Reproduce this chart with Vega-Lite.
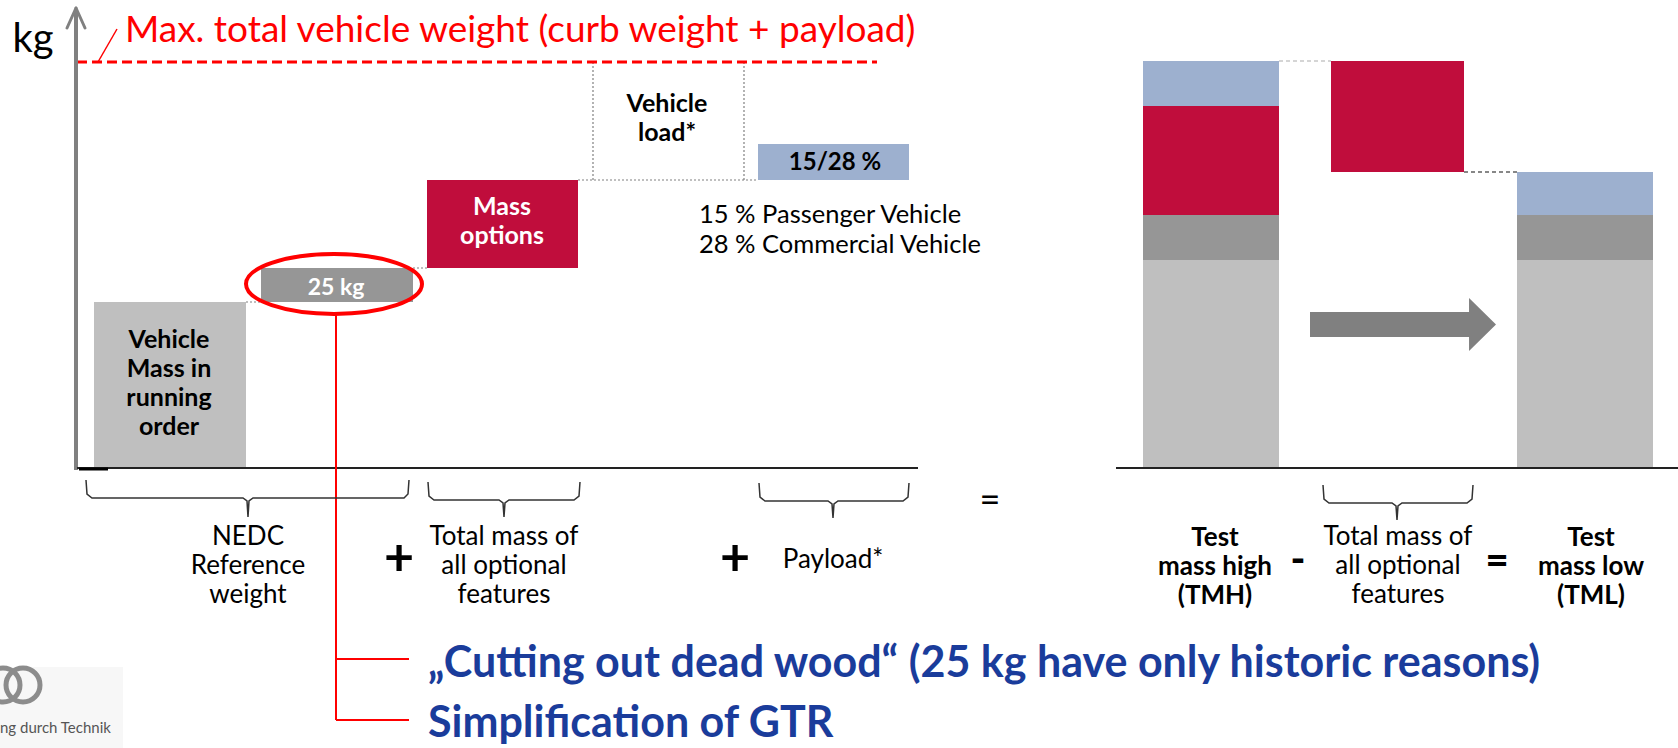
{
 "$schema": "https://vega.github.io/schema/vega-lite/v6.json",
 "width": 1678, "height": 748,
 "autosize": {"type": "none"},
 "padding": 0,
 "background": "#ffffff",
 "config": {"view": {"stroke": null}, "font": "Lato"},
 "datasets": {
  "bars": [
   {"part": "Mass in running order", "x": 94, "x2": 246, "y": 0, "y2": 166},
   {"part": "25 kg", "x": 261, "x2": 413, "y": 166, "y2": 200},
   {"part": "Mass options", "x": 427, "x2": 578, "y": 200, "y2": 288},
   {"part": "Payload", "x": 758, "x2": 909, "y": 288, "y2": 324},
   {"part": "Mass in running order", "x": 1143, "x2": 1279, "y": 0, "y2": 208},
   {"part": "25 kg", "x": 1143, "x2": 1279, "y": 208, "y2": 253},
   {"part": "Mass options", "x": 1143, "x2": 1279, "y": 253, "y2": 362},
   {"part": "Payload", "x": 1143, "x2": 1279, "y": 362, "y2": 407},
   {"part": "Mass options", "x": 1331, "x2": 1464, "y": 296, "y2": 407},
   {"part": "Mass in running order", "x": 1517, "x2": 1653, "y": 0, "y2": 208},
   {"part": "25 kg", "x": 1517, "x2": 1653, "y": 208, "y2": 253},
   {"part": "Payload", "x": 1517, "x2": 1653, "y": 253, "y2": 296}
  ],
  "logoBox": [{"x": 0, "x2": 123, "y": -199, "y2": -280}],
  "dotted": [
   {"x": 246, "x2": 261, "y": 166, "y2": 166},
   {"x": 413, "x2": 427, "y": 200, "y2": 200},
   {"x": 578, "x2": 758, "y": 288, "y2": 288},
   {"x": 593, "x2": 593, "y": 288, "y2": 406},
   {"x": 744, "x2": 744, "y": 288, "y2": 406}
  ],
  "dashedLight": [{"x": 1279, "x2": 1331, "y": 407, "y2": 407}],
  "dashedDark": [{"x": 1464, "x2": 1517, "y": 296, "y2": 296}],
  "maxLine": [{"x": 77, "x2": 877, "y": 406, "y2": 406}],
  "grayAxis": [{"x": 76, "x2": 76, "y": -2, "y2": 458}],
  "grayArrowWings": [
   {"x": 76, "x2": 67, "y": 460, "y2": 440},
   {"x": 76, "x2": 85, "y": 460, "y2": 440}
  ],
  "blackAxes": [
   {"x": 77, "x2": 918, "y": 0, "y2": 0},
   {"x": 1116, "x2": 1678, "y": 0, "y2": 0}
  ],
  "blackTick": [{"x": 79, "x2": 108, "y": -1, "y2": -1}],
  "redLines": [
   {"x": 336, "x2": 336, "y": 154, "y2": -252},
   {"x": 336, "x2": 409, "y": -191, "y2": -191},
   {"x": 336, "x2": 409, "y": -252, "y2": -252}
  ],
  "redSlash": [{"x": 98, "x2": 117, "y": 406, "y2": 439}],
  "ellipse": [{"x": 334, "y": 184}],
  "arrow": [{"x": 1403, "y": 143.5}],
  "rings": [{"x": 3, "y": -217}, {"x": 23, "y": -217}],
  "braces": [
   {"brace": "A", "i": 0, "x": 86, "y": -12}, {"brace": "A", "i": 1, "x": 87, "y": -26}, {"brace": "A", "i": 2, "x": 92, "y": -30}, {"brace": "A", "i": 3, "x": 243, "y": -30}, {"brace": "A", "i": 4, "x": 247, "y": -33}, {"brace": "A", "i": 5, "x": 248, "y": -49}, {"brace": "A", "i": 6, "x": 249, "y": -33}, {"brace": "A", "i": 7, "x": 253, "y": -30}, {"brace": "A", "i": 8, "x": 404, "y": -30}, {"brace": "A", "i": 9, "x": 408, "y": -26}, {"brace": "A", "i": 10, "x": 409, "y": -12},
   {"brace": "B", "i": 0, "x": 428, "y": -14}, {"brace": "B", "i": 1, "x": 429, "y": -28}, {"brace": "B", "i": 2, "x": 434, "y": -32}, {"brace": "B", "i": 3, "x": 499, "y": -32}, {"brace": "B", "i": 4, "x": 503, "y": -35}, {"brace": "B", "i": 5, "x": 504, "y": -49}, {"brace": "B", "i": 6, "x": 505, "y": -35}, {"brace": "B", "i": 7, "x": 509, "y": -32}, {"brace": "B", "i": 8, "x": 574, "y": -32}, {"brace": "B", "i": 9, "x": 579, "y": -28}, {"brace": "B", "i": 10, "x": 580, "y": -14},
   {"brace": "C", "i": 0, "x": 759, "y": -15}, {"brace": "C", "i": 1, "x": 760, "y": -29}, {"brace": "C", "i": 2, "x": 765, "y": -33}, {"brace": "C", "i": 3, "x": 828, "y": -33}, {"brace": "C", "i": 4, "x": 832, "y": -36}, {"brace": "C", "i": 5, "x": 833, "y": -50}, {"brace": "C", "i": 6, "x": 834, "y": -36}, {"brace": "C", "i": 7, "x": 838, "y": -33}, {"brace": "C", "i": 8, "x": 903, "y": -33}, {"brace": "C", "i": 9, "x": 908, "y": -29}, {"brace": "C", "i": 10, "x": 909, "y": -15},
   {"brace": "D", "i": 0, "x": 1323, "y": -17}, {"brace": "D", "i": 1, "x": 1324, "y": -31}, {"brace": "D", "i": 2, "x": 1329, "y": -35}, {"brace": "D", "i": 3, "x": 1392, "y": -35}, {"brace": "D", "i": 4, "x": 1396, "y": -38}, {"brace": "D", "i": 5, "x": 1397, "y": -52}, {"brace": "D", "i": 6, "x": 1398, "y": -38}, {"brace": "D", "i": 7, "x": 1402, "y": -35}, {"brace": "D", "i": 8, "x": 1467, "y": -35}, {"brace": "D", "i": 9, "x": 1472, "y": -31}, {"brace": "D", "i": 10, "x": 1473, "y": -17}
  ],
  "labels26": [
   {"label": "NEDC", "x": 248, "y": -69}, {"label": "Reference", "x": 248, "y": -98}, {"label": "weight", "x": 248, "y": -127},
   {"label": "Total mass of", "x": 504, "y": -69}, {"label": "all optional", "x": 504, "y": -98}, {"label": "features", "x": 504, "y": -127},
   {"label": "Payload*", "x": 833, "y": -92},
   {"label": "Total mass of", "x": 1398, "y": -69}, {"label": "all optional", "x": 1398, "y": -98}, {"label": "features", "x": 1398, "y": -127}
  ],
  "notes": [
   {"label": "15 % Passenger Vehicle", "x": 699, "y": 253},
   {"label": "28 % Commercial Vehicle", "x": 699, "y": 223}
  ],
  "kg": [{"label": "kg", "x": 33, "y": 416}],
  "eqMid": [{"label": "=", "x": 990, "y": -33}],
  "bold24": [
   {"label": "Vehicle", "x": 667, "y": 364}, {"label": "load*", "x": 667, "y": 335},
   {"label": "Vehicle", "x": 169, "y": 128}, {"label": "Mass in", "x": 169, "y": 99}, {"label": "running", "x": 169, "y": 70}, {"label": "order", "x": 169, "y": 41}
  ],
  "pct": [{"label": "15/28 %", "x": 835, "y": 305}],
  "bold26": [
   {"label": "Test", "x": 1215, "y": -70}, {"label": "mass high", "x": 1215, "y": -99}, {"label": "(TMH)", "x": 1215, "y": -128},
   {"label": "Test", "x": 1591, "y": -70}, {"label": "mass low", "x": 1591, "y": -99}, {"label": "(TML)", "x": 1591, "y": -128}
  ],
  "plus": [{"label": "+", "x": 399, "y": -91}, {"label": "+", "x": 735, "y": -91}],
  "ops": [{"label": "-", "x": 1298, "y": -93}, {"label": "=", "x": 1497, "y": -94}],
  "white": [
   {"label": "Mass", "x": 502, "y": 261}, {"label": "options", "x": 502, "y": 232}
  ],
  "white25": [{"label": "25 kg", "x": 336, "y": 180}],
  "title": [{"label": "Max. total vehicle weight (curb weight + payload)", "x": 125, "y": 426}],
  "blue": [
   {"label": "„Cutting out dead wood“ (25 kg have only historic reasons)", "x": 428, "y": -209},
   {"label": "Simplification of GTR", "x": 428, "y": -269}
  ],
  "logoText": [{"label": "ng durch Technik", "x": 0, "y": -265}]
 },
 "encoding": {
  "x": {"field": "x", "type": "quantitative", "scale": {"domain": [0, 1678], "nice": false, "zero": false}, "axis": null},
  "y": {"field": "y", "type": "quantitative", "scale": {"domain": [-280, 468], "nice": false, "zero": false}, "axis": null}
 },
 "layer": [
  {"data": {"name": "logoBox"}, "mark": {"type": "rect", "color": "#f7f7f7"}, "encoding": {"x2": {"field": "x2"}, "y2": {"field": "y2"}}},
  {"data": {"name": "bars"}, "mark": {"type": "rect"}, "encoding": {"x2": {"field": "x2"}, "y2": {"field": "y2"}, "color": {"field": "part", "type": "nominal", "legend": null, "scale": {"domain": ["Mass in running order", "25 kg", "Mass options", "Payload"], "range": ["#BFBFBF", "#969696", "#C00D3C", "#9DB0CF"]}}}},
  {"data": {"name": "dotted"}, "mark": {"type": "rule", "color": "#808080", "strokeWidth": 1.2, "strokeDash": [2, 2]}, "encoding": {"x2": {"field": "x2"}, "y2": {"field": "y2"}}},
  {"data": {"name": "dashedLight"}, "mark": {"type": "rule", "color": "#c8c8c8", "strokeWidth": 1.5, "strokeDash": [4, 3]}, "encoding": {"x2": {"field": "x2"}, "y2": {"field": "y2"}}},
  {"data": {"name": "dashedDark"}, "mark": {"type": "rule", "color": "#606060", "strokeWidth": 1.5, "strokeDash": [4, 3]}, "encoding": {"x2": {"field": "x2"}, "y2": {"field": "y2"}}},
  {"data": {"name": "maxLine"}, "mark": {"type": "rule", "color": "#FF0000", "strokeWidth": 3, "strokeDash": [10, 5]}, "encoding": {"x2": {"field": "x2"}, "y2": {"field": "y2"}}},
  {"data": {"name": "grayAxis"}, "mark": {"type": "rule", "color": "#808080", "strokeWidth": 4}, "encoding": {"x2": {"field": "x2"}, "y2": {"field": "y2"}}},
  {"data": {"name": "grayArrowWings"}, "mark": {"type": "rule", "color": "#808080", "strokeWidth": 3, "strokeCap": "round"}, "encoding": {"x2": {"field": "x2"}, "y2": {"field": "y2"}}},
  {"data": {"name": "blackAxes"}, "mark": {"type": "rule", "color": "#222222", "strokeWidth": 2}, "encoding": {"x2": {"field": "x2"}, "y2": {"field": "y2"}}},
  {"data": {"name": "blackTick"}, "mark": {"type": "rule", "color": "#000000", "strokeWidth": 3}, "encoding": {"x2": {"field": "x2"}, "y2": {"field": "y2"}}},
  {"data": {"name": "redLines"}, "mark": {"type": "rule", "color": "#FF0000", "strokeWidth": 2}, "encoding": {"x2": {"field": "x2"}, "y2": {"field": "y2"}}},
  {"data": {"name": "redSlash"}, "mark": {"type": "rule", "color": "#FF0000", "strokeWidth": 1.5}, "encoding": {"x2": {"field": "x2"}, "y2": {"field": "y2"}}},
  {"data": {"name": "ellipse"}, "mark": {"type": "point", "shape": "M -1 0 A 1 0.34 0 1 0 1 0 A 1 0.34 0 1 0 -1 0 Z", "size": 30976, "filled": false, "color": "#FF0000", "strokeWidth": 4, "opacity": 1}},
  {"data": {"name": "arrow"}, "mark": {"type": "point", "shape": "M -1 -0.134 L 0.71 -0.134 L 0.71 -0.285 L 1 0 L 0.71 0.285 L 0.71 0.134 L -1 0.134 Z", "size": 34596, "filled": true, "color": "#808080", "opacity": 1}},
  {"data": {"name": "rings"}, "mark": {"type": "point", "shape": "circle", "size": 1156, "filled": false, "color": "#8c8c8c", "strokeWidth": 5, "opacity": 1}},
  {"data": {"name": "braces"}, "mark": {"type": "line", "color": "#333333", "strokeWidth": 1.5}, "encoding": {"detail": {"field": "brace"}, "order": {"field": "i", "type": "quantitative"}}},
  {"data": {"name": "labels26"}, "mark": {"type": "text", "font": "Lato", "fontSize": 26, "color": "#000000", "align": "center", "baseline": "middle"}, "encoding": {"text": {"field": "label"}}},
  {"data": {"name": "notes"}, "mark": {"type": "text", "font": "Lato", "fontSize": 25.5, "color": "#000000", "align": "left", "baseline": "middle"}, "encoding": {"text": {"field": "label"}}},
  {"data": {"name": "kg"}, "mark": {"type": "text", "font": "Lato", "fontSize": 40, "color": "#000000", "align": "center", "baseline": "alphabetic"}, "encoding": {"text": {"field": "label"}}},
  {"data": {"name": "eqMid"}, "mark": {"type": "text", "font": "Lato", "fontSize": 36, "color": "#000000", "align": "center", "baseline": "middle"}, "encoding": {"text": {"field": "label"}}},
  {"data": {"name": "bold24"}, "mark": {"type": "text", "font": "Lato", "fontWeight": "bold", "fontSize": 25, "color": "#000000", "align": "center", "baseline": "middle"}, "encoding": {"text": {"field": "label"}}},
  {"data": {"name": "pct"}, "mark": {"type": "text", "font": "Lato", "fontWeight": "bold", "fontSize": 24, "color": "#000000", "align": "center", "baseline": "middle"}, "encoding": {"text": {"field": "label"}}},
  {"data": {"name": "bold26"}, "mark": {"type": "text", "font": "Lato", "fontWeight": "bold", "fontSize": 26, "color": "#000000", "align": "center", "baseline": "middle"}, "encoding": {"text": {"field": "label"}}},
  {"data": {"name": "plus"}, "mark": {"type": "text", "font": "Lato", "fontWeight": "bold", "fontSize": 52, "color": "#000000", "align": "center", "baseline": "middle"}, "encoding": {"text": {"field": "label"}}},
  {"data": {"name": "ops"}, "mark": {"type": "text", "font": "Lato", "fontWeight": "900", "fontSize": 40, "color": "#000000", "align": "center", "baseline": "middle"}, "encoding": {"text": {"field": "label"}}},
  {"data": {"name": "white"}, "mark": {"type": "text", "font": "Lato", "fontWeight": "bold", "fontSize": 25, "color": "#ffffff", "align": "center", "baseline": "middle"}, "encoding": {"text": {"field": "label"}}},
  {"data": {"name": "white25"}, "mark": {"type": "text", "font": "Lato", "fontWeight": "bold", "fontSize": 23, "color": "#ffffff", "align": "center", "baseline": "middle"}, "encoding": {"text": {"field": "label"}}},
  {"data": {"name": "title"}, "mark": {"type": "text", "font": "Lato", "fontSize": 37, "color": "#FF0000", "align": "left", "baseline": "alphabetic"}, "encoding": {"text": {"field": "label"}}},
  {"data": {"name": "blue"}, "mark": {"type": "text", "font": "Lato", "fontWeight": "bold", "fontSize": 43, "color": "#1A3C9B", "align": "left", "baseline": "alphabetic"}, "encoding": {"text": {"field": "label"}}},
  {"data": {"name": "logoText"}, "mark": {"type": "text", "font": "Lato", "fontSize": 15, "color": "#555555", "align": "left", "baseline": "alphabetic"}, "encoding": {"text": {"field": "label"}}}
 ]
}
